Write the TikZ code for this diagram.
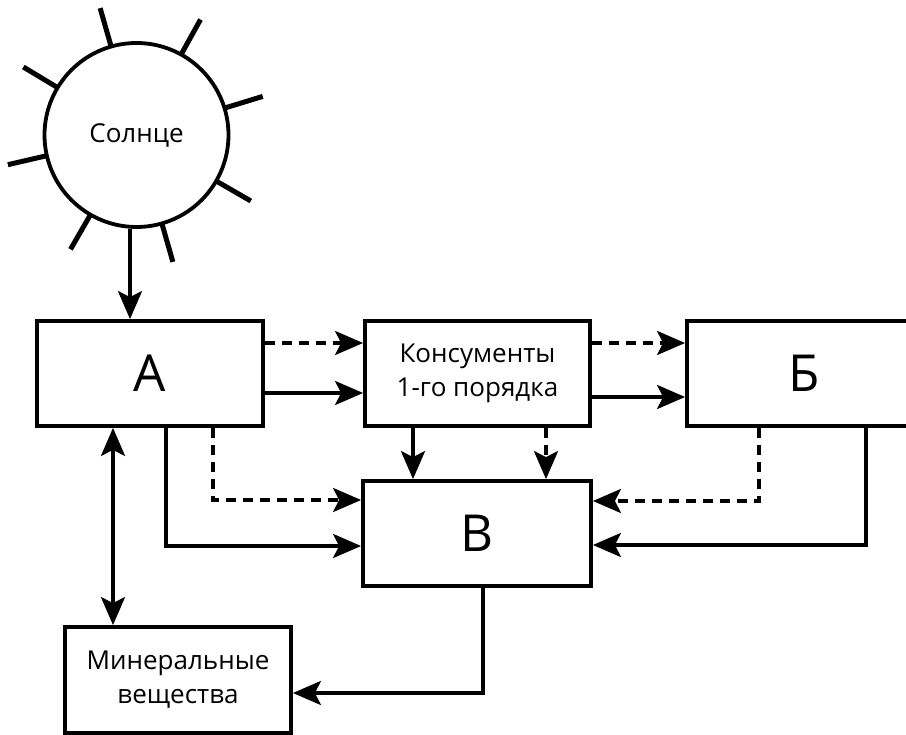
\documentclass[tikz,border=0pt]{standalone}
\usepackage{fontspec}
\setmainfont{Open Sans}
\usetikzlibrary{arrows.meta}
\begin{document}
\begin{tikzpicture}[x=1pt,y=-1pt,
  box/.style={draw,line width=3.8pt,inner sep=0pt,minimum height=105pt,font=\fontsize{26}{34}\selectfont,align=center},
  bigbox/.style={box,font=\fontsize{51}{52}\selectfont},
  tip/.tip={Stealth[length=28pt,width=24pt,inset=6pt]},
  arr/.style={line width=3.4pt,-tip},
  darr/.style={arr,dash pattern=on 10pt off 7pt},
  ray/.style={line width=5pt}]
\useasboundingbox (0,0) rectangle (906,735);
% Sun
\node (sun) [draw,circle,line width=3.8pt,minimum size=184pt,inner sep=0pt,font=\fontsize{26}{34}\selectfont] at (136.5,135) {Солнце};
\foreach \a in {106,61,17,-30,-74,-120,-167,149}
  \draw[ray] (sun.center) ++(-\a:93) -- ++(-\a:39);
% Boxes
\node (A) [bigbox,minimum width=226pt] at (150,373.5) {А};
\node (K) [box,minimum width=225pt] at (477.5,373.5) {Консументы\\1-го порядка};
\node (B) [bigbox,minimum width=312pt] at (843,373.5) {\hspace*{-78pt}Б};
\node (V) [bigbox,minimum width=228pt] at (477,533.5) {В};
\node (M) [box,minimum width=226pt,minimum height=106pt] at (178,680) {Минеральные\\вещества};
% Arrows
\draw[arr] ([xshift=-6.5pt]sun.south) -- ([xshift=-20pt]A.north);
\draw[darr] (A.east |- 0,343) -- (K.west |- 0,343);
\draw[arr] (A.east |- 0,393) -- (K.west |- 0,393);
\draw[darr] (K.east |- 0,343) -- (B.west |- 0,343);
\draw[arr] (K.east |- 0,397) -- (B.west |- 0,397);
\draw[arr] (K.south -| 413,0) -- (V.north -| 413,0);
\draw[darr] (K.south -| 546,0) -- (V.north -| 546,0);
\draw[darr] (A.south -| 213,0) |- (V.west |- 0,500);
\draw[arr] (A.south -| 166,0) |- (V.west |- 0,546);
\draw[darr] (B.south -| 759,0) |- (V.east |- 0,501);
\draw[arr] (B.south -| 866,0) |- (V.east |- 0,545);
\draw[arr] (V.south -| 483,0) |- (M.east |- 0,693);
\draw[line width=3.4pt,tip-tip] (A.south -| 113,0) -- (M.north -| 113,0);
\end{tikzpicture}
\end{document}
